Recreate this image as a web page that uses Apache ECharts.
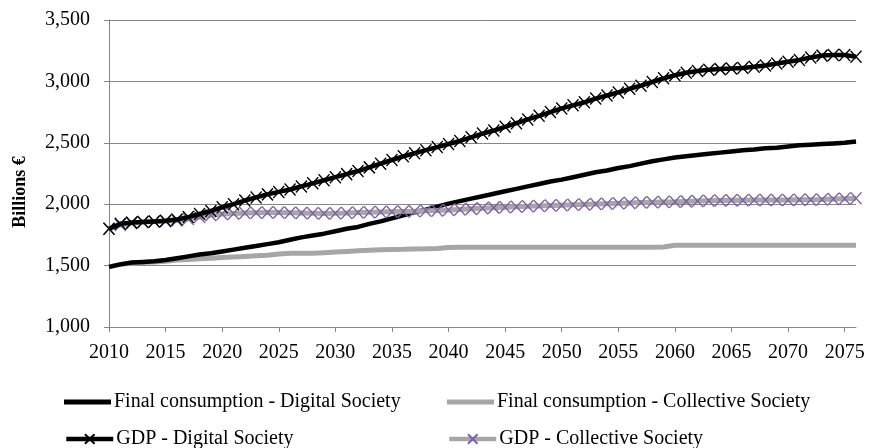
<!DOCTYPE html>
<html>
<head>
<meta charset="utf-8">
<script src="https://cdn.jsdelivr.net/npm/echarts@6/dist/echarts.min.js"></script>
<style>html,body{margin:0;padding:0;background:#fff;}#c{width:875px;height:448px;}</style>
</head>
<body>
<div id="c"></div>
<script>
const years = [];
for (let y = 2010; y <= 2076; y++) years.push(String(y));

const fcDigital = [1490,1510,1525,1530,1535,1545,1560,1575,1590,1600,
  1615,1630,1645,1660,1675,1690,1710,1730,1745,1760,
  1780,1800,1815,1840,1860,1885,1910,1935,1955,1980,
  2005,2025,2045,2065,2085,2105,2125,2145,2165,2185,
  2200,2220,2240,2260,2275,2295,2310,2330,2350,2365,
  2380,2390,2400,2410,2420,2430,2440,2445,2455,2460,
  2470,2480,2485,2490,2495,2500,2510];

const fcCollective = [1490,1510,1520,1525,1530,1535,1545,1550,1555,1560,
  1565,1570,1575,1580,1585,1595,1600,1600,1600,1605,
  1610,1615,1620,1625,1630,1632,1633,1635,1637,1640,
  1648,1650,1650,1650,1650,1650,1650,1650,1650,1650,
  1650,1650,1650,1650,1650,1650,1650,1650,1650,1652,
  1665,1665,1665,1665,1665,1665,1665,1665,1665,1665,
  1665,1665,1665,1665,1665,1665,1665];

const gdpDigital = [1800,1840,1850,1855,1860,1865,1875,1895,1920,1945,
  1975,2000,2030,2055,2080,2100,2120,2145,2170,2195,
  2220,2245,2270,2300,2330,2360,2390,2415,2440,2465,
  2490,2515,2545,2575,2600,2630,2660,2690,2720,2750,
  2780,2805,2830,2860,2885,2910,2940,2965,2995,3025,
  3050,3070,3085,3095,3100,3105,3110,3120,3130,3145,
  3160,3175,3195,3210,3215,3215,3200];

const gdpCollective = [1800,1830,1845,1855,1860,1862,1868,1880,1895,1910,
  1920,1925,1928,1930,1932,1932,1930,1928,1926,1925,
  1926,1928,1932,1935,1937,1939,1941,1943,1946,1949,
  1952,1957,1962,1967,1972,1976,1980,1983,1986,1989,
  1992,1995,1998,2001,2004,2007,2010,2013,2016,2018,
  2020,2023,2026,2028,2030,2032,2033,2034,2034,2035,
  2035,2036,2037,2039,2042,2045,2048];

const yTicks = { min: 1000, max: 3500, step: 500 };
const names = ['Final consumption - Digital Society', 'Final consumption - Collective Society',
  'GDP - Digital Society', 'GDP - Collective Society'];

const FONT = 'Liberation Serif, "Times New Roman", serif';
const X_PATH = 'path://M0,0L10,12M10,0L0,12';

const chart = echarts.init(document.getElementById('c'), null, { renderer: 'canvas' });
function legendAt(name, left, top, plain) {
  const item = plain ? { name: name, icon: 'rect' } : { name: name };
  return {
    data: [item], left: left, top: top, orient: 'horizontal',
    itemWidth: 47, itemHeight: plain ? 5 : 12, itemGap: 0, padding: 0,
    lineStyle: { width: 4.5 },
    textStyle: { fontFamily: FONT, fontSize: 20, color: '#000', padding: [0,0,0,-2] },
    selectedMode: false
  };
}
chart.setOption({
  animation: false,
  backgroundColor: '#fff',
  grid: { left: 109, right: 19, top: 20, bottom: 121 },
  legend: [
    legendAt(names[0], 64, 392, true),
    legendAt(names[1], 447, 392, true),
    legendAt(names[2], 64, 429, false),
    legendAt(names[3], 447, 429, false)
  ],
  graphic: [{
    type: 'text',
    x: 20, y: 192, rotation: Math.PI / 2,
    style: { text: 'Billions €', fontFamily: FONT, fontSize: 18, fontWeight: 'bold', fill: '#000',
      align: 'center', verticalAlign: 'middle' }
  }],
  xAxis: {
    type: 'category', data: years, boundaryGap: false,
    axisLine: { lineStyle: { color: '#868686', width: 1 } },
    axisTick: { interval: 4, length: 5, lineStyle: { color: '#868686' } },
    axisLabel: { interval: 4, fontFamily: FONT, fontSize: 20, color: '#000', margin: 16 },
    splitLine: { show: false }
  },
  yAxis: {
    type: 'value', min: yTicks.min, max: yTicks.max, interval: yTicks.step,
    axisLine: { show: true, lineStyle: { color: '#868686', width: 1 } },
    axisTick: { show: true, length: 5, lineStyle: { color: '#868686' } },
    axisLabel: { fontFamily: FONT, fontSize: 20, color: '#000', margin: 19,
      formatter: v => v.toLocaleString('en-US') },
    splitLine: { lineStyle: { color: '#868686', width: 1 } }
  },
  series: [
    { name: names[0], type: 'line', data: fcDigital, showSymbol: false, symbol: 'none',
      lineStyle: { color: '#000', width: 4.5 }, itemStyle: { color: '#000' }, z: 3 },
    { name: names[1], type: 'line', data: fcCollective, showSymbol: false, symbol: 'none',
      lineStyle: { color: '#A6A6A6', width: 5 }, itemStyle: { color: '#A6A6A6' }, z: 2 },
    { name: names[2], type: 'line', data: gdpDigital, symbol: X_PATH, symbolSize: [11, 12],
      showSymbol: true, showAllSymbol: true,
      lineStyle: { color: '#000', width: 4.5 },
      itemStyle: { color: 'rgba(0,0,0,0)', borderColor: '#000', borderWidth: 1.4 }, z: 5 },
    { name: names[3], type: 'line', data: gdpCollective, symbol: X_PATH, symbolSize: [11, 12],
      showSymbol: true, showAllSymbol: true,
      lineStyle: { color: '#A6A6A6', width: 5 },
      itemStyle: { color: 'rgba(0,0,0,0)', borderColor: '#7F62A6', borderWidth: 1.4 }, z: 4 }
  ]
});
</script>
</body>
</html>
